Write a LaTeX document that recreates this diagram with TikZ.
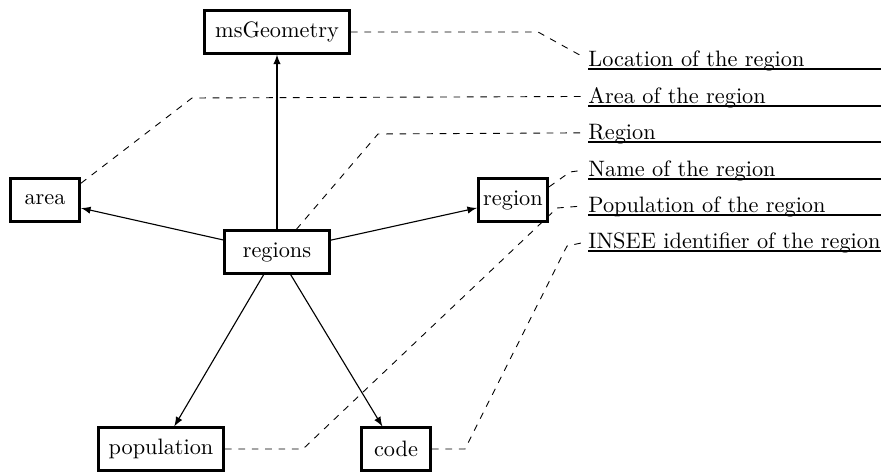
\documentclass[tikz,border=0pt]{standalone}
\usetikzlibrary{arrows}
\begin{document}
\begin{tikzpicture}[x=0.4484pt, y=-0.4484pt,
  entity/.style={draw, line width=1.2pt, rectangle, minimum height=19pt,
    inner xsep=2pt},
  rel/.style={-latex, line width=0.5pt},
  note/.style={dashed, line width=0.4pt, shorten >=3pt},
  caption/.style={anchor=south west, inner sep=0pt, text depth=1pt,
    text width=131.4pt, align=left}]
\useasboundingbox (0,0) rectangle (881,472);

% entities
\node[entity, minimum width=65.2pt] (geo) at (277,32) {msGeometry};
\node[entity, minimum width=31.1pt] (area) at (45,200) {area};
\node[entity, minimum width=46.8pt] (regions) at (277,252) {regions};
\node[entity, minimum width=31.1pt] (region) at (513,200) {region};
\node[entity, minimum width=56.2pt] (pop) at (161,449) {population};
\node[entity, minimum width=31.1pt] (code) at (396,449) {code};

% relations
\draw[rel] (regions) -- (geo);
\draw[rel] (regions) -- (area);
\draw[rel] (regions) -- (region);
\draw[rel] (regions) -- (pop);
\draw[rel] (regions) -- (code);

% descriptions
\node[caption] (dgeo) at (588,69) {Location of the region};
\node[caption] (darea) at (588,106) {Area of the region};
\node[caption] (dregions) at (588,142) {Region};
\node[caption] (dregion) at (588,179) {Name of the region};
\node[caption] (dpop) at (588,215) {Population of the region};
\node[caption] (dcode) at (588,251) {INSEE identifier of the region};
\foreach \d in {dgeo,darea,dregions,dregion,dpop,dcode}
  \draw[line width=0.5pt] (\d.south west) -- (\d.south east);

% bends of the description links
\coordinate (kgeo) at (538,32);
\coordinate (karea) at (192,98);
\coordinate (kregions) at (378,134);
\coordinate (kregion) at (570,172);
\coordinate (kpop1) at (303,449);
\coordinate (kpop2) at (557,208);
\coordinate (kcode1) at (465,449);
\coordinate (kcode2) at (567,246);

% description links
\draw[note] (geo.east) -- (kgeo) -- (dgeo.west);
\draw[note] (area.25) -- (karea) -- (darea.west);
\draw[note] (regions) -- (kregions) -- (dregions.west);
\draw[note] (region.20) -- (kregion) -- (dregion.west);
\draw[note] (pop.east) -- (kpop1) -- (kpop2) -- (dpop.west);
\draw[note] (code.east) -- (kcode1) -- (kcode2) -- (dcode.west);
\end{tikzpicture}
\end{document}
